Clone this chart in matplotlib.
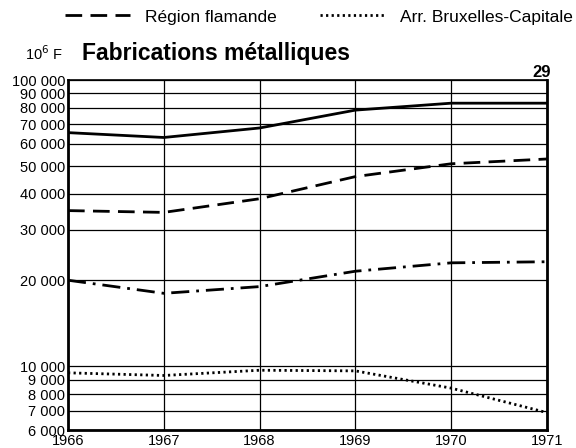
import matplotlib
matplotlib.use("Agg")
import matplotlib.pyplot as plt
from matplotlib.ticker import FixedLocator, FixedFormatter, NullLocator
from matplotlib.lines import Line2D

plt.rcParams['font.family'] = ['Liberation Sans', 'DejaVu Sans']

years = [1966, 1967, 1968, 1969, 1970, 1971]
royaume = [65500, 63000, 68000, 78500, 83000, 83000]
flamande = [35000, 34500, 38500, 46000, 51000, 53000]
wallonne = [20000, 18000, 19000, 21500, 23000, 23200]
bruxelles = [9500, 9300, 9700, 9650, 8400, 6900]

ytick_values = [6000, 7000, 8000, 9000, 10000, 20000, 30000, 40000,
                50000, 60000, 70000, 80000, 90000, 100000]
ytick_labels = ["6 000", "7 000", "8 000", "9 000", "10 000", "20 000",
                "30 000", "40 000", "50 000", "60 000", "70 000",
                "80 000", "90 000", "100 000"]
xtick_labels = ["1966", "1967", "1968", "1969", "1970", "1971"]

fig = plt.figure(figsize=(5.76, 4.48), dpi=100)
ax = fig.add_axes([68 / 576, 1 - 430 / 448, (547 - 68) / 576, (430 - 80) / 448])

ax.set_yscale('log')
ax.set_ylim(6000, 100000)
ax.set_xlim(years[0], years[-1])

ax.yaxis.set_major_locator(FixedLocator(ytick_values))
ax.yaxis.set_major_formatter(FixedFormatter(ytick_labels))
ax.yaxis.set_minor_locator(NullLocator())
ax.xaxis.set_major_locator(FixedLocator(years))
ax.xaxis.set_major_formatter(FixedFormatter(xtick_labels))

ax.tick_params(axis='both', length=0, labelsize=10.5, colors='black')
ax.tick_params(axis='y', pad=2)
ax.tick_params(axis='x', pad=3)

ax.grid(True, which='major', color='black', linewidth=0.9)
for side in ['left', 'bottom', 'right']:
    ax.spines[side].set_linewidth(2.0)
ax.spines['top'].set_linewidth(1.2)

lw = 2.0
dash = (0, (6, 3))
dashdot = (0, (6.5, 2.5, 1, 2.5))
dots = (0, (0.8, 1.2))

ax.plot(years, royaume, color='black', linewidth=lw, linestyle='-')
ax.plot(years, flamande, color='black', linewidth=lw, linestyle=dash)
ax.plot(years, wallonne, color='black', linewidth=lw, linestyle=dashdot)
ax.plot(years, bruxelles, color='black', linewidth=lw, linestyle=dots)

handles = [
    Line2D([], [], color='black', linewidth=lw, linestyle=dash),
    Line2D([], [], color='black', linewidth=lw, linestyle=dots),
]
fig.legend(handles, ["Région flamande", "Arr. Bruxelles-Capitale"],
           loc='center left', bbox_to_anchor=(65 / 576, 1 - 17 / 448),
           ncol=2, frameon=False, fontsize=12.5, handlelength=3.75,
           handletextpad=0.85, columnspacing=2.5, borderpad=0, borderaxespad=0)

fig.text(25 / 576, 1 - 60 / 448, "10$^6$ F", fontsize=10.5, va='baseline', ha='left')
fig.text(82 / 576, 1 - 60 / 448, "Fabrications métalliques", fontsize=16.5,
         fontweight='bold', va='baseline', ha='left')
fig.text(551 / 576, 1 - 77 / 448, "29", fontsize=12, fontweight='bold',
         va='baseline', ha='right')

fig.savefig("out.png", dpi=100)
